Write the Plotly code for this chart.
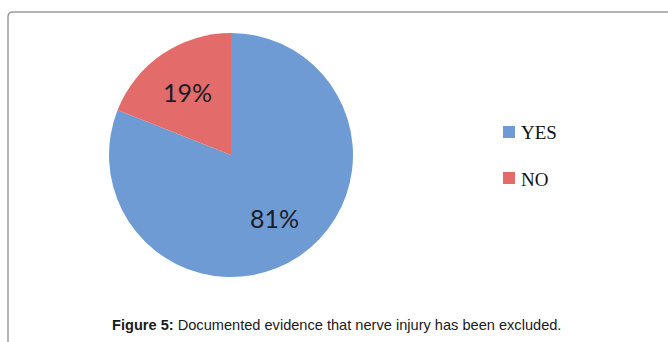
import math
import plotly.graph_objects as go

labels = ["YES", "NO"]
values = [81, 19]
colors = ["#6f9bd5", "#e36b69"]
label_text = ["81%", "19%"]
caption_bold = "Figure 5:"
caption_rest = " Documented evidence that nerve injury has been excluded."

W, H = 668, 342

def px(x):
    return x / W

def py(y):
    return 1 - y / H

cx, cy, r = 231, 155, 122

fig = go.Figure()
fig.add_trace(go.Pie(
    labels=labels, values=values, sort=False, direction="clockwise", rotation=0,
    marker=dict(colors=colors, line=dict(width=0)),
    textinfo="none", hoverinfo="label+percent", showlegend=False,
    domain=dict(x=[px(cx - r), px(cx + r)], y=[py(cy + r), py(cy - r)]),
))

# slice labels positioned from the data angles
total = sum(values)
start = 0.0
annotations = []
for v, t in zip(values, label_text):
    mid = start + v / total * 360 / 2
    start += v / total * 360
    ang = math.radians(mid)
    lx = cx + 0.64 * r * math.sin(ang)
    ly = cy - 0.62 * r * math.cos(ang)
    annotations.append(dict(x=px(lx), y=py(ly), xref="paper", yref="paper",
                            xanchor="center", yanchor="middle",
                            text=t, showarrow=False,
                            font=dict(family="Lato", size=25, color="#1c1c28")))

# legend
shapes = []
leg_y = [132, 178]
for lab, col, yy in zip(labels, colors, leg_y):
    shapes.append(dict(type="rect", xref="paper", yref="paper",
                       x0=px(503), x1=px(515), y0=py(yy + 6), y1=py(yy - 6),
                       fillcolor=col, line=dict(width=0)))
    annotations.append(dict(x=px(519), y=py(yy + 1), xref="paper", yref="paper",
                            xanchor="left", yanchor="middle", text=lab, showarrow=False,
                            font=dict(family="Liberation Serif", size=19, color="#111111")))

# frame
shapes.append(dict(type="path", xref="paper", yref="paper",
                   path=f"M {px(8)} {py(342)} L {px(8)} {py(17)} Q {px(8)} {py(12)} {px(13)} {py(12)} L {px(668)} {py(12)}",
                   line=dict(color="#9a9a9a", width=1.5)))

annotations.append(dict(x=px(336), y=py(325), xref="paper", yref="paper",
                        xanchor="center", yanchor="middle",
                        text=f"<b>{caption_bold}</b>{caption_rest}", showarrow=False,
                        font=dict(family="Liberation Sans", size=14.6, color="#1a1a1a")))

fig.update_layout(
    width=W, height=H, margin=dict(l=0, r=0, t=0, b=0),
    paper_bgcolor="white", plot_bgcolor="white",
    shapes=shapes, annotations=annotations,
)
fig.write_html("out.html")
